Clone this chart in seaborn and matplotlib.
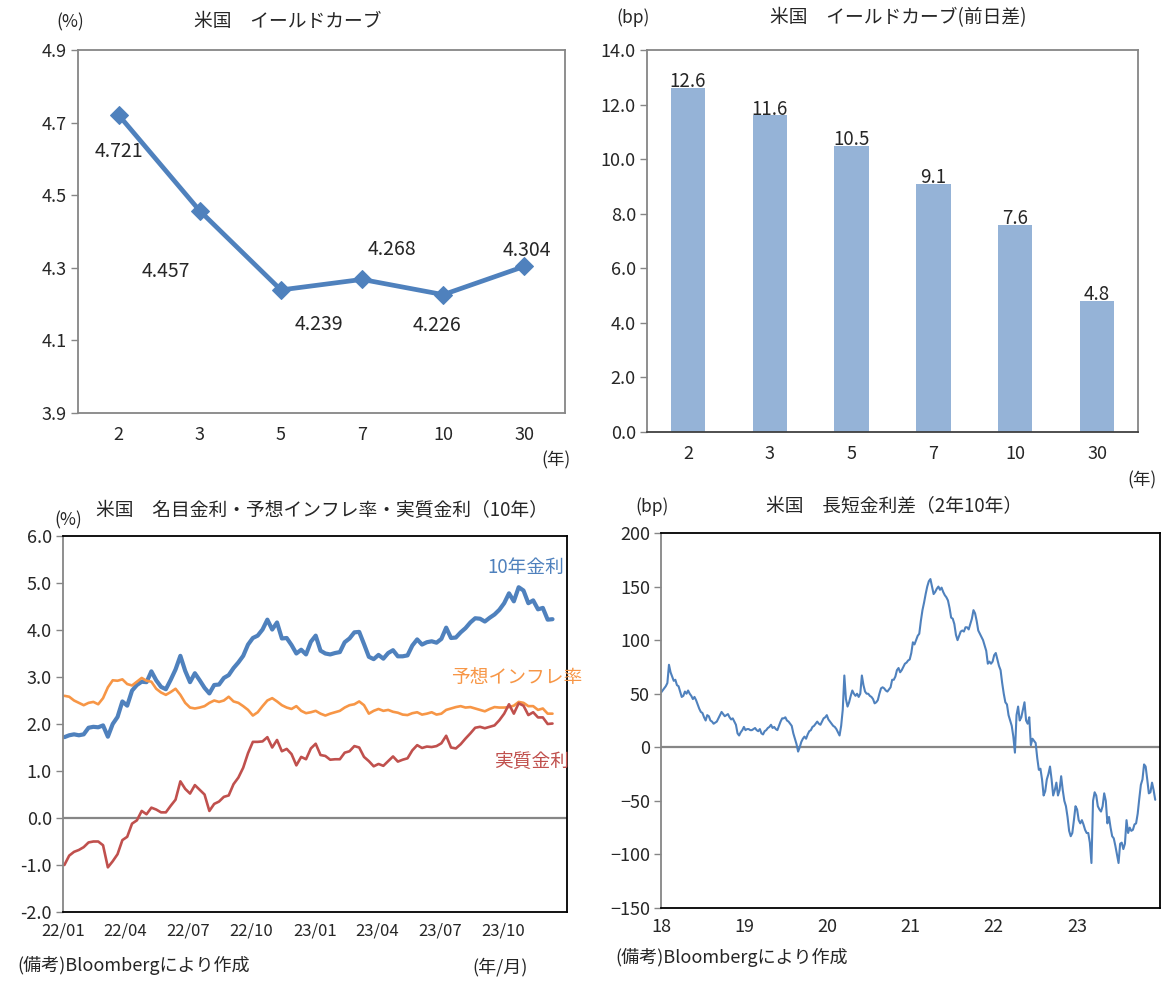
import numpy as np
import pandas as pd
import matplotlib
matplotlib.use("Agg")
import matplotlib.pyplot as plt
import matplotlib.dates as mdates
import seaborn as sns

sns.set_style("white")
plt.rcParams['font.family'] = ['Noto Sans CJK JP', 'DejaVu Sans']

#%% data
tenors = ['2', '3', '5', '7', '10', '30']
curve_yield = [4.721, 4.457, 4.239, 4.268, 4.226, 4.304]
change_bp = [12.6, 11.6, 10.5, 9.1, 7.6, 4.8]

# weekly (Mondays) from 2022-01-03
nominal_10y = [1.72,
    1.76, 1.78, 1.76, 1.78, 1.92, 1.94, 1.93, 1.97, 1.73, 2.00, 2.15, 2.48,
    2.39, 2.71, 2.83, 2.90, 2.89, 3.12, 2.93, 2.79, 2.74, 2.94, 3.16, 3.45, 3.13,
    2.89, 3.08, 2.93, 2.77, 2.65, 2.83, 2.84, 2.98, 3.04, 3.19, 3.31, 3.45, 3.69, 3.83,
    3.88, 4.01, 4.22, 4.01, 4.16, 3.82, 3.83, 3.68, 3.50, 3.58, 3.48, 3.75, 3.88,
    3.56, 3.50, 3.48, 3.51, 3.53, 3.74, 3.82, 3.95, 3.96, 3.70, 3.43, 3.38, 3.47,
    3.39, 3.51, 3.57, 3.44, 3.44, 3.46, 3.67, 3.80, 3.69, 3.74, 3.76, 3.73, 3.81,
    4.05, 3.83, 3.84, 3.95, 4.04, 4.16, 4.25, 4.24, 4.18, 4.26, 4.33, 4.43, 4.57,
    4.78, 4.61, 4.91, 4.84, 4.57, 4.63, 4.44, 4.47, 4.22, 4.23]
breakeven_10y = [2.60,
    2.58, 2.50, 2.45, 2.40, 2.45, 2.47, 2.42, 2.55, 2.78, 2.93, 2.92, 2.95,
    2.85, 2.82, 2.90, 2.98, 2.92, 2.90, 2.75, 2.67, 2.62, 2.68, 2.75, 2.62, 2.45,
    2.35, 2.33, 2.35, 2.38, 2.45, 2.50, 2.47, 2.50, 2.58, 2.48, 2.45, 2.38, 2.30, 2.18,
    2.25, 2.38, 2.50, 2.55, 2.48, 2.40, 2.35, 2.32, 2.38, 2.28, 2.23, 2.25, 2.28,
    2.22, 2.18, 2.22, 2.25, 2.28, 2.35, 2.40, 2.42, 2.48, 2.40, 2.22, 2.28, 2.32,
    2.28, 2.30, 2.26, 2.24, 2.20, 2.19, 2.23, 2.25, 2.20, 2.22, 2.25, 2.20, 2.22,
    2.30, 2.33, 2.36, 2.38, 2.35, 2.36, 2.33, 2.30, 2.27, 2.32, 2.36, 2.35, 2.35,
    2.36, 2.39, 2.47, 2.45, 2.38, 2.38, 2.30, 2.33, 2.22, 2.22]
real_10y = [-1.00,
    -0.80, -0.72, -0.68, -0.62, -0.52, -0.50, -0.50, -0.58, -1.05, -0.92, -0.77, -0.47,
    -0.40, -0.12, -0.05, 0.15, 0.08, 0.22, 0.18, 0.12, 0.12, 0.26, 0.39, 0.78, 0.62,
    0.52, 0.70, 0.60, 0.50, 0.15, 0.30, 0.35, 0.45, 0.48, 0.72, 0.86, 1.07, 1.38, 1.62,
    1.62, 1.63, 1.72, 1.50, 1.66, 1.42, 1.47, 1.36, 1.12, 1.30, 1.25, 1.48, 1.58,
    1.34, 1.32, 1.24, 1.25, 1.25, 1.39, 1.42, 1.53, 1.50, 1.30, 1.21, 1.10, 1.15,
    1.11, 1.21, 1.31, 1.20, 1.24, 1.27, 1.44, 1.55, 1.49, 1.52, 1.51, 1.53, 1.59,
    1.75, 1.50, 1.48, 1.57, 1.69, 1.80, 1.92, 1.94, 1.91, 1.94, 1.97, 2.08, 2.22,
    2.42, 2.22, 2.44, 2.39, 2.19, 2.25, 2.14, 2.14, 2.00, 2.01]

# 2s10s spread, weekly (Mondays) from 2018-01-01
spread_bp = [
    51, 53, 55, 57, 60, 77, 70, 66, 62, 63, 58, 57, 52, 47, 48, 52, 50, 53,
    50, 48, 45, 47, 44, 40, 36, 33, 32, 28, 25, 30, 29, 25, 24, 22, 23,
    24, 27, 30, 33, 31, 29, 30, 31, 28, 26, 27, 24, 21, 13, 11, 14, 16, 19,
    16, 17, 17, 16, 16, 17, 18, 16, 15, 17, 13, 12, 15, 16, 18, 19, 21,
    18, 19, 17, 16, 20, 24, 27, 27, 28, 25, 24, 22, 20, 13, 8, 3, -4,
    0, 5, 8, 10, 8, 12, 15, 16, 19, 20, 22, 24, 22, 21, 24, 27, 28, 30,
    26, 24, 22, 20, 19, 17, 14, 11, 20, 35, 67, 45, 38, 42, 48, 53, 50,
    48, 50, 47, 50, 67, 58, 52, 50, 50, 48, 47, 45, 41, 42, 44, 50, 55, 56,
    55, 53, 52, 54, 56, 63, 63, 66, 72, 74, 70, 72, 75, 78, 79, 81, 82,
    88, 98, 96, 100, 104, 106, 118, 128, 135, 143, 150, 155, 157, 150, 143, 145, 148,
    150, 147, 149, 145, 142, 140, 137, 130, 121, 120, 115, 105, 100,
    104, 108, 109, 108, 112, 112, 110, 115, 120, 128, 125, 118, 109,
    106, 103, 100, 95, 90, 78, 80, 78, 80,
    86, 88, 82, 76, 72, 60, 50, 42, 40, 30, 25, 20, 10, -5, 30, 38, 25,
    28, 35, 42, 25, 22, 28, 2, 8, 6, 4, -10, -21, -20, -30, -45, -41, -30, -25,
    -18, -30, -45, -40, -33, -45, -40, -27, -40, -50, -55, -65, -78, -83, -80, -68, -55,
    -58, -68, -71, -68, -72, -77, -80, -80, -89, -108, -50, -42, -45, -55, -58, -60, -55,
    -43, -50, -71, -65, -75, -83, -85, -92, -100, -108, -90, -89, -95, -90,
    -68, -80, -75, -78, -77, -72, -71, -62, -48, -35, -30, -16, -18, -30, -43, -42, -33,
    -40, -49]

dates_10y = pd.date_range('2022-01-03', periods=len(nominal_10y), freq='W-MON')
dates_spread = pd.date_range('2018-01-01', periods=len(spread_bp), freq='W-MON')

BLUE = '#4F81BD'
ORANGE = '#F79646'
RED = '#C0504D'
BAR = '#95B3D7'
GRAY = '#868686'

W, H = 1173, 982
def box(x0, y0, x1, y1):
    return [x0 / W, 1 - y1 / H, (x1 - x0) / W, (y1 - y0) / H]

fig = plt.figure(figsize=(W / 100, H / 100), dpi=100)

def ftext(x, y, s, **kw):
    kw.setdefault('fontsize', 13.5)
    kw.setdefault('va', 'center')
    fig.text(x / W, 1 - y / H, s, **kw)

def frame(ax, left=GRAY, bottom=GRAY, other=GRAY):
    ax.spines['left'].set_color(left)
    ax.spines['bottom'].set_color(bottom)
    ax.spines['top'].set_color(other)
    ax.spines['right'].set_color(other)
    for s in ax.spines.values():
        s.set_linewidth(1.3)
    ax.tick_params(axis='y', which='both', left=True, length=5, width=1,
                   color=GRAY, labelsize=13, pad=3)
    ax.tick_params(axis='x', which='both', bottom=False, labelsize=13, pad=6)
    ax.set_xlabel('')
    ax.set_ylabel('')

#%% top-left: yield curve
ax1 = fig.add_axes(box(78, 50, 565, 413))
sns.lineplot(x=np.arange(len(tenors)), y=curve_yield, ax=ax1, color=BLUE,
             linewidth=3.4, marker='D', markersize=9, markeredgecolor=BLUE)
ax1.set_xlim(-0.5, len(tenors) - 0.5)
ax1.set_ylim(3.9, 4.9)
yt = np.arange(3.9, 4.91, 0.2)
ax1.set_yticks(yt)
ax1.set_yticklabels([f'{v:.1f}' for v in yt])
ax1.set_xticks(np.arange(len(tenors)))
ax1.set_xticklabels(tenors)
frame(ax1)
label_off = [(0, -37), (-34, -61), (38, -35), (30, 30), (-6, -31), (2, 16)]
for i, (v, (dx, dy)) in enumerate(zip(curve_yield, label_off)):
    ax1.annotate(f'{v:.3f}', (i, v), xytext=(dx * 0.72, dy * 0.72),
                 textcoords='offset points', ha='center', va='center', fontsize=14)
ftext(288, 22, '米国　イールドカーブ', ha='center')
ftext(70, 22, '(%)', ha='center', fontsize=12.5)
ftext(556, 460, '(年)', ha='center', fontsize=12.5)

#%% top-right: change from previous day
ax2 = fig.add_axes(box(647, 50, 1138, 432))
sns.barplot(x=tenors, y=change_bp, ax=ax2, color=BAR, saturation=1,
            width=0.42, edgecolor='none', order=tenors)
ax2.set_ylim(0, 14)
yt = np.arange(0, 14.1, 2)
ax2.set_yticks(yt)
ax2.set_yticklabels([f'{v:.1f}' for v in yt])
frame(ax2, bottom='#404040')
for i, v in enumerate(change_bp):
    ax2.annotate(f'{v:.1f}', (i, v), xytext=(0, -3), textcoords='offset points',
                 ha='center', va='bottom', fontsize=13.5)
ftext(898, 18, '米国　イールドカーブ(前日差)', ha='center')
ftext(633, 18, '(bp)', ha='center', fontsize=12.5)
ftext(1142, 480, '(年)', ha='center', fontsize=12.5)

#%% bottom-left: nominal / breakeven / real
ax3 = fig.add_axes(box(63, 536, 567, 912))
ax3.axhline(0, color=GRAY, linewidth=1.6, zorder=1)
sns.lineplot(x=dates_10y, y=nominal_10y, ax=ax3, color=BLUE, linewidth=3.0)
sns.lineplot(x=dates_10y, y=breakeven_10y, ax=ax3, color=ORANGE, linewidth=1.9)
sns.lineplot(x=dates_10y, y=real_10y, ax=ax3, color=RED, linewidth=1.9)
ax3.set_xlim(pd.Timestamp('2022-01-01'), pd.Timestamp('2024-01-01'))
ax3.set_ylim(-2, 6)
yt = np.arange(-2, 6.1, 1)
ax3.set_yticks(yt)
ax3.set_yticklabels([f'{v:.1f}' for v in yt])
ax3.set_xticks(pd.date_range('2022-01-01', '2023-10-01', freq='QS'))
ax3.xaxis.set_major_formatter(mdates.DateFormatter('%y/%m'))
frame(ax3, bottom='black', other='black')
ax3.tick_params(axis='x', pad=4, labelsize=12)
ftext(526, 567, '10年金利', ha='center', color=BLUE, fontsize=13.5)
ftext(517, 678, '予想インフレ率', ha='center', color=ORANGE, fontsize=13.5)
ftext(532, 761, '実質金利', ha='center', color=RED, fontsize=13.5)
ftext(322, 510, '米国　名目金利・予想インフレ率・実質金利（10年）', ha='center')
ftext(68, 520, '(%)', ha='center', fontsize=12.5)
ftext(17, 965, '(備考)Bloombergにより作成', ha='left', fontsize=13)
ftext(500, 967, '(年/月)', ha='center', fontsize=13)

#%% bottom-right: 2s10s spread
ax4 = fig.add_axes(box(661, 533, 1160, 908))
ax4.axhline(0, color=GRAY, linewidth=1.6, zorder=1)
sns.lineplot(x=dates_spread, y=spread_bp, ax=ax4, color=BLUE, linewidth=1.5)
ax4.set_xlim(pd.Timestamp('2018-01-01'), pd.Timestamp('2024-01-01'))
ax4.set_ylim(-150, 200)
ax4.set_yticks(np.arange(-150, 201, 50))
ax4.set_xticks(pd.date_range('2018-01-01', '2023-01-01', freq='YS'))
ax4.xaxis.set_major_formatter(mdates.DateFormatter('%y'))
frame(ax4, bottom='black', other='black')
ax4.tick_params(axis='both', labelsize=13)
ax4.tick_params(axis='x', pad=4)
ftext(894, 507, '米国　長短金利差（2年10年）', ha='center')
ftext(652, 507, '(bp)', ha='center', fontsize=12.5)
ftext(615, 957, '(備考)Bloombergにより作成', ha='left', fontsize=13)

fig.savefig('out.png', dpi=100)
